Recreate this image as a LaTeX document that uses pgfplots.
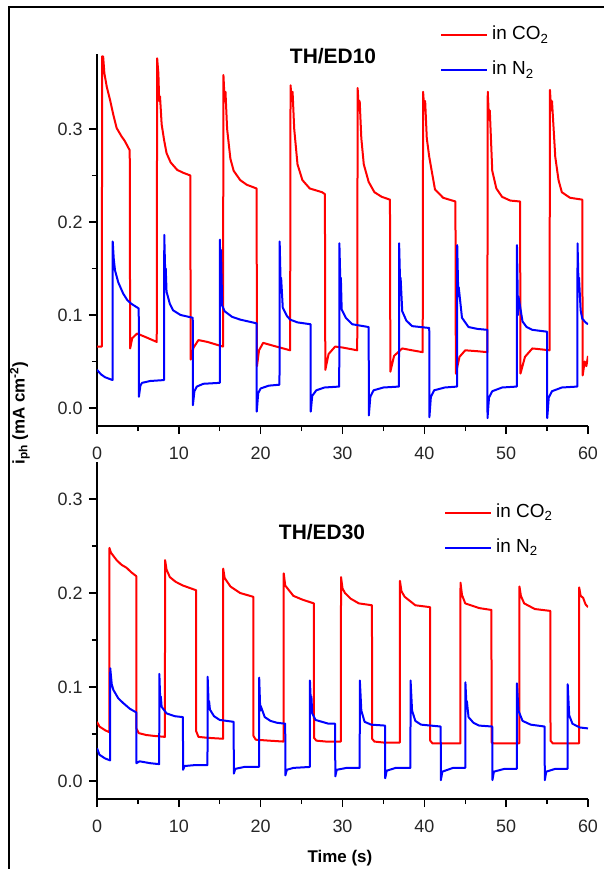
\documentclass[border=0pt]{standalone}
\usepackage{fontspec}
\setmainfont{Liberation Sans}
\usepackage{pgfplots}
\pgfplotsset{compat=1.18}
\definecolor{myred}{RGB}{255,0,0}
\definecolor{myblue}{RGB}{0,0,255}
\pgfplotsset{
  panel/.style={
    scale only axis, width=491bp, xmin=0, xmax=60,
    axis x line*=bottom, axis y line*=left,
    axis line style={line width=1.6bp},
    every tick/.style={line width=1.4bp, black},
    tick align=outside, major tick length=8bp, minor tick length=5bp,
    xtick={0,10,...,60}, minor x tick num=1,
    ytick={0,0.1,0.2,0.3}, minor y tick num=1,
    /pgf/number format/assume math mode=true,
    tick label style={font=\fontsize{18}{18}\selectfont, text=black!85},
    xticklabel style={yshift=-9bp},
    yticklabel style={xshift=-3bp, /pgf/number format/fixed, /pgf/number format/fixed zerofill, /pgf/number format/precision=1},
    legend cell align=left,
    legend image code/.code={\draw[#1] (0bp,0bp) -- (46bp,0bp);},
    legend style={draw=none, fill=none, inner sep=0pt, row sep=15bp, column sep=3bp,
      font=\fontsize{19}{19}\selectfont, nodes={inner sep=1bp, text height=14bp, text depth=4bp}},
    every axis plot/.append style={line width=2bp, line join=round},
  }
}
\begin{document}
\begin{tikzpicture}
\path[use as bounding box] (0,0) rectangle (604bp,-869bp);
\draw[line width=2.5bp] (9bp,-869bp) -- (9bp,-7bp) -- (604bp,-7bp);
% ---------- top panel ----------
\begin{axis}[panel, at={(97bp,-426bp)}, anchor=south west, height=372bp,
  ymin=-0.0194, ymax=0.3806,
  legend style={at={(axis description cs:0.6986,1.079)}, anchor=north west}]
\addplot[myred] coordinates {
(0,0.066) (0.6,0.066) (0.62,0.378) (0.75,0.378) (0.9,0.36) (1.2,0.345) (1.6,0.331) (2.0,0.315) (2.4,0.301) (3.0,0.292) (3.4,0.287) (4.0,0.277)
(4.05,0.064) (4.3,0.075) (4.9,0.080) (6,0.076) (7.3,0.071)
(7.35,0.376) (7.5,0.36) (7.6,0.33) (7.7,0.335) (7.9,0.305) (8.2,0.288) (8.5,0.274) (9.0,0.264) (9.8,0.256) (10.5,0.253) (11.4,0.250)
(11.45,0.052) (11.8,0.065) (12.4,0.073) (13.5,0.071) (15.4,0.066)
(15.45,0.358) (15.6,0.33) (15.7,0.34) (15.9,0.30) (16.3,0.268) (16.7,0.255) (17.5,0.245) (18.3,0.240) (19.5,0.236)
(19.55,0.045) (19.8,0.062) (20.3,0.070) (21.5,0.067) (23.6,0.062)
(23.65,0.347) (23.8,0.33) (23.9,0.34) (24.1,0.30) (24.5,0.262) (25.1,0.245) (26,0.236) (27.5,0.232) (27.85,0.230)
(27.9,0.041) (28.3,0.058) (29.1,0.066) (30,0.065) (31.8,0.062)
(31.85,0.344) (32.0,0.32) (32.1,0.33) (32.3,0.29) (32.6,0.262) (33.2,0.243) (33.9,0.232) (34.8,0.227) (35.8,0.224)
(35.85,0.039) (36.3,0.056) (37.3,0.064) (38.5,0.062) (39.8,0.060)
(39.85,0.340) (40.0,0.32) (40.1,0.33) (40.3,0.29) (40.6,0.27) (41.3,0.235) (42.3,0.226) (43.8,0.222)
(43.85,0.037) (44.3,0.055) (45,0.062) (46.5,0.061) (47.7,0.060)
(47.75,0.340) (47.9,0.31) (48.0,0.32) (48.3,0.255) (48.8,0.236) (49.5,0.227) (50.5,0.223) (51.7,0.222)
(51.75,0.037) (52.3,0.055) (53.2,0.064) (54.3,0.063) (55.3,0.062)
(55.35,0.342) (55.5,0.32) (55.6,0.33) (56.0,0.27) (56.4,0.245) (56.8,0.232) (57.8,0.226) (59.3,0.224)
(59.35,0.035) (59.6,0.050) (59.8,0.045) (60,0.056)
};
\addlegendentry{in CO\textsubscript{2}}
\addplot[myblue] coordinates {
(0,0.041) (0.5,0.036) (1.0,0.033) (1.9,0.030)
(1.92,0.179) (2.05,0.16) (2.2,0.148) (2.6,0.135) (3.2,0.123) (3.7,0.116) (4.2,0.112) (5.1,0.107)
(5.12,0.012) (5.3,0.024) (5.5,0.027) (6.5,0.029) (8.2,0.030)
(8.22,0.186) (8.35,0.14) (8.4,0.15) (8.5,0.125) (8.9,0.112) (9.3,0.105) (10.2,0.100) (11.7,0.097)
(11.72,0.003) (11.9,0.018) (12.2,0.023) (13,0.026) (15.0,0.027)
(15.02,0.181) (15.1,0.12) (15.15,0.17) (15.3,0.11) (15.6,0.104) (16.5,0.098) (17.5,0.095) (19.5,0.091)
(19.52,-0.004) (19.7,0.016) (20.0,0.021) (21,0.024) (22.3,0.025)
(22.32,0.179) (22.45,0.13) (22.5,0.14) (22.7,0.108) (23.2,0.099) (23.6,0.095) (24.5,0.092) (26.1,0.090)
(26.12,-0.004) (26.3,0.013) (26.8,0.019) (27.8,0.022) (29.6,0.023)
(29.62,0.177) (29.75,0.13) (29.8,0.14) (29.9,0.106) (30.4,0.097) (31.2,0.090) (33.2,0.087)
(33.22,-0.008) (33.4,0.012) (33.8,0.019) (35,0.022) (36.9,0.023)
(36.92,0.177) (37.05,0.13) (37.1,0.14) (37.3,0.104) (37.8,0.094) (38.5,0.088) (40.6,0.086)
(40.62,-0.010) (40.8,0.012) (41.2,0.019) (42.5,0.022) (44.0,0.023)
(44.02,0.175) (44.15,0.12) (44.2,0.13) (44.6,0.097) (45.4,0.087) (46.5,0.085) (47.7,0.084)
(47.72,-0.011) (47.9,0.011) (48.3,0.018) (49.5,0.022) (51.3,0.023)
(51.32,0.175) (51.45,0.10) (51.5,0.12) (52.0,0.093) (52.5,0.087) (53.2,0.084) (55.0,0.082)
(55.02,-0.011) (55.2,0.011) (55.6,0.018) (56.8,0.022) (58.7,0.023)
(58.72,0.177) (58.85,0.13) (58.9,0.14) (59.1,0.105) (59.3,0.096) (59.7,0.092) (60,0.090)
};
\addlegendentry{in N\textsubscript{2}}
\end{axis}
% ---------- bottom panel ----------
\begin{axis}[panel, at={(97bp,-799bp)}, anchor=south west, height=337bp,
  ymin=-0.0191, ymax=0.3394,
  legend style={at={(axis description cs:0.7067,0.88)}, anchor=north west}]
\addplot[myred] coordinates {
(0,0.063) (0.3,0.058) (1.0,0.054) (1.5,0.052)
(1.52,0.248) (1.7,0.243) (2.4,0.235) (3.0,0.230) (3.6,0.227) (4.2,0.222) (4.8,0.218)
(4.82,0.056) (5.1,0.051) (6.0,0.049) (7.0,0.048) (8.3,0.047)
(8.32,0.235) (8.5,0.225) (8.9,0.217) (9.6,0.212) (10.5,0.208) (12.1,0.203)
(12.12,0.053) (12.4,0.047) (13.5,0.046) (15.4,0.045)
(15.42,0.226) (15.6,0.216) (16.3,0.207) (17.5,0.200) (19.1,0.196)
(19.12,0.048) (19.4,0.044) (21,0.043) (22.8,0.042)
(22.82,0.221) (23.0,0.208) (24.0,0.197) (25.1,0.193) (26.5,0.189)
(26.52,0.046) (26.8,0.043) (28,0.042) (29.8,0.042)
(29.82,0.217) (30.0,0.205) (30.3,0.200) (31,0.194) (32,0.189) (33.6,0.187)
(33.62,0.045) (33.9,0.042) (35,0.041) (37.0,0.041)
(37.02,0.213) (37.2,0.202) (37.6,0.196) (38.9,0.187) (40.7,0.185)
(40.72,0.043) (41.0,0.040) (42.5,0.040) (44.4,0.040)
(44.42,0.211) (44.6,0.198) (45,0.189) (46.7,0.184) (48.2,0.182)
(48.22,0.041) (48.5,0.040) (50,0.040) (51.6,0.040)
(51.62,0.207) (51.8,0.197) (52.2,0.189) (53.5,0.183) (55.4,0.181)
(55.42,0.043) (55.7,0.040) (57,0.040) (58.9,0.040)
(58.92,0.206) (59.1,0.197) (59.4,0.195) (59.7,0.188) (60,0.185)
};
\addlegendentry{in CO\textsubscript{2}}
\addplot[myblue] coordinates {
(0,0.035) (0.3,0.028) (1.0,0.024) (1.6,0.022)
(1.62,0.120) (1.8,0.103) (2.0,0.097) (2.6,0.088) (3.2,0.083) (4.0,0.077) (4.8,0.073)
(4.82,0.019) (5.2,0.021) (6.5,0.019) (7.6,0.018)
(7.62,0.114) (7.75,0.08) (7.8,0.09) (7.9,0.079) (8.5,0.072) (9.5,0.069) (10.5,0.068)
(10.52,0.012) (10.7,0.016) (12,0.017) (13.5,0.017)
(13.52,0.111) (13.65,0.08) (13.7,0.085) (13.8,0.076) (14.3,0.069) (15,0.065) (16.7,0.063)
(16.72,0.008) (16.9,0.013) (18,0.015) (19.8,0.015)
(19.82,0.110) (19.95,0.075) (20.0,0.08) (20.5,0.068) (21.2,0.064) (22,0.062) (23.0,0.061)
(23.02,0.006) (23.2,0.012) (24,0.014) (26.0,0.015)
(26.02,0.107) (26.15,0.08) (26.2,0.09) (26.3,0.072) (26.7,0.065) (27.5,0.063) (28.3,0.061) (29.1,0.061)
(29.12,0.005) (29.3,0.012) (30.5,0.014) (32.1,0.014)
(32.12,0.107) (32.3,0.075) (32.7,0.063) (33.5,0.060) (35.2,0.059)
(35.22,0.003) (35.4,0.011) (36.5,0.014) (38.3,0.014)
(38.32,0.107) (38.5,0.075) (38.9,0.064) (39.6,0.060) (42.0,0.058)
(42.02,0.001) (42.2,0.010) (43.5,0.014) (45.0,0.014)
(45.02,0.105) (45.15,0.08) (45.2,0.085) (45.4,0.068) (46.0,0.062) (46.7,0.059) (48.3,0.058)
(48.32,0.001) (48.5,0.010) (49.8,0.013) (51.3,0.013)
(51.32,0.104) (51.5,0.075) (52.0,0.064) (53,0.060) (54.7,0.058)
(54.72,0.001) (54.9,0.010) (56,0.013) (57.5,0.013)
(57.52,0.103) (57.7,0.07) (58.1,0.061) (59,0.057) (60,0.056)
};
\addlegendentry{in N\textsubscript{2}}
\end{axis}
\node[font=\bfseries\fontsize{21}{21}\selectfont] at (333bp,-56bp) {TH/ED10};
\node[font=\bfseries\fontsize{21}{21}\selectfont] at (322bp,-532bp) {TH/ED30};
\node[font=\bfseries\fontsize{17}{17}\selectfont, rotate=90] at (20bp,-413bp) {i\textsubscript{ph} (mA cm\textsuperscript{-2})};
\node[font=\bfseries\fontsize{17}{17}\selectfont] at (340bp,-858bp) {Time (s)};
\end{tikzpicture}
\end{document}
